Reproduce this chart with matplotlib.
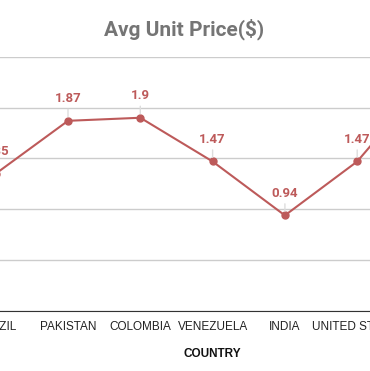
import matplotlib
matplotlib.use("Agg")
import matplotlib.pyplot as plt

# chart is cropped on both sides; the last point is off to the right
countries = ["BRAZIL", "PAKISTAN", "COLOMBIA", "VENEZUELA", "INDIA", "UNITED STATES", ""]
prices = [1.35, 1.87, 1.9, 1.47, 0.94, 1.47, 2.3]
labels = ["1.35", "1.87", "1.9", "1.47", "0.94", "1.47", "2.3"]
yticks = [0, 0.5, 1.0, 1.5, 2.0, 2.5]

red = "#bd5a5a"

fig = plt.figure(figsize=(3.70, 3.71), dpi=100)
# axes wider than the figure so the outer categories get clipped like the reference
ax = fig.add_axes([-0.1093, 0.1617, 1.3678, 0.6854])

x = range(len(countries))
ax.plot(x, prices, color=red, lw=1.5, marker="o", ms=5, zorder=3)

for i, (v, t) in enumerate(zip(prices, labels)):
    ax.annotate(t, (i, v), xytext=(0, 16), textcoords="offset points",
                ha="center", va="center", color=red, fontsize=9.5,
                fontfamily="Roboto", fontweight="bold",
                arrowprops=dict(arrowstyle="-", color="#dddddd", lw=1,
                                shrinkA=1, shrinkB=3))

ax.set_xlim(-0.5, len(countries) - 0.5)
ax.set_ylim(0, 2.5)
ax.set_yticks(yticks)
ax.set_xticks(list(x))
ax.set_xticklabels(countries, fontfamily="Liberation Sans", fontsize=8.5, color="#222222")
ax.tick_params(length=0, pad=7)
ax.tick_params(axis="y", labelleft=False)
ax.grid(axis="y", color="#cccccc", lw=1)
ax.set_axisbelow(True)
for s in ["top", "left", "right"]:
    ax.spines[s].set_visible(False)
ax.spines["bottom"].set_color("#333333")
ax.set_xlabel("COUNTRY", fontfamily="Liberation Sans", fontsize=8.5,
              fontweight="bold", color="#111111", labelpad=11)

fig.text(0.497, 1 - 29 / 371, "Avg Unit Price($)", ha="center", va="center",
         fontfamily="Roboto", fontweight="bold", fontsize=15, color="#757575")

fig.savefig("out.png", dpi=100)
